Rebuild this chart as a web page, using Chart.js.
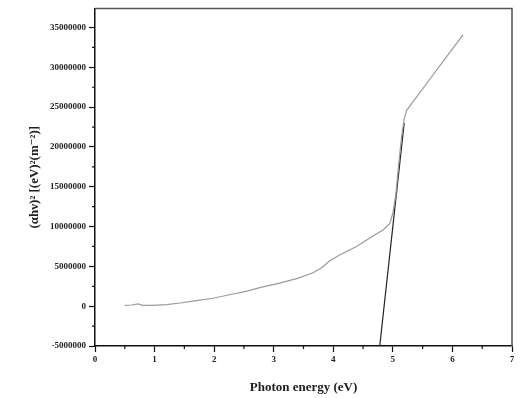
<!DOCTYPE html>
<html>
<head>
<meta charset="utf-8">
<script src="https://cdn.jsdelivr.net/npm/chart.js@4/dist/chart.umd.min.js"></script>
<style>
  html, body { margin: 0; padding: 0; background: #fff; }
  #wrap { width: 524px; height: 398px; }
</style>
</head>
<body>
<div id="wrap"><canvas id="tauc"></canvas></div>
<script>
// 측정 곡선 (Photon energy, (αhν)^2)
const energyEv = [0.50, 0.62, 0.72, 0.80, 0.97, 1.20, 1.43, 1.70, 1.98, 2.30, 2.55, 2.80, 3.10, 3.40, 3.66, 3.80, 3.94, 4.10, 4.39, 4.60, 4.84, 4.95, 5.00, 5.05, 5.10, 5.15, 5.19, 5.23, 5.29, 5.50, 5.62, 5.90, 6.18];
const alphaHv2 = [1.0e5, 1.5e5, 2.8e5, 1.0e5, 1.0e5, 2.0e5, 4.0e5, 7.0e5, 1.0e6, 1.5e6, 1.9e6, 2.4e6, 2.9e6, 3.5e6, 4.2e6, 4.8e6, 5.7e6, 6.4e6, 7.5e6, 8.5e6, 9.6e6, 1.04e7, 1.17e7, 1.40e7, 1.80e7, 2.15e7, 2.35e7, 2.46e7, 2.52e7, 2.73e7, 2.85e7, 3.13e7, 3.41e7];

// 직선 피팅 (밴드갭 외삽)
const fitEnergy = [4.78, 5.19];
const fitValue = [-5.0e6, 2.30e7];

// 축 눈금
const xTicks = [0, 1, 2, 3, 4, 5, 6, 7];
const xMinorTicks = [0.5, 1.5, 2.5, 3.5, 4.5, 5.5, 6.5];
const yTicks = [-5e6, 0, 5e6, 1e7, 1.5e7, 2e7, 2.5e7, 3e7, 3.5e7];
const yMinorTicks = [-2.5e6, 2.5e6, 7.5e6, 1.25e7, 1.75e7, 2.25e7, 2.75e7, 3.25e7];

const serif = "'Liberation Serif', 'DejaVu Serif', serif";

// 보조 눈금 + 위/오른쪽 테두리
const framePlugin = {
  id: 'frame',
  beforeDatasetsDraw(chart) {
    const {ctx, chartArea: a} = chart;
    ctx.save();
    ctx.strokeStyle = '#555';
    ctx.lineWidth = 1.5;
    ctx.beginPath();
    ctx.moveTo(a.left, a.top);
    ctx.lineTo(a.right, a.top);
    ctx.lineTo(a.right, a.bottom);
    ctx.stroke();
    ctx.restore();
  },
  afterDraw(chart) {
    const {ctx, chartArea: a, scales} = chart;
    ctx.save();
    ctx.strokeStyle = '#111';
    ctx.lineWidth = 1.2;
    ctx.beginPath();
    xMinorTicks.forEach(v => {
      const px = scales.x.getPixelForValue(v);
      ctx.moveTo(px, a.bottom);
      ctx.lineTo(px, a.bottom + 3);
    });
    yMinorTicks.forEach(v => {
      const py = scales.y.getPixelForValue(v);
      ctx.moveTo(a.left, py);
      ctx.lineTo(a.left - 3, py);
    });
    ctx.stroke();
    ctx.restore();
  }
};

const curvePoints = energyEv.map((e, i) => ({x: e, y: alphaHv2[i]}));
const fitPoints = fitEnergy.map((e, i) => ({x: e, y: fitValue[i]}));

new Chart(document.getElementById('tauc'), {
  type: 'line',
  data: {
    datasets: [
      {
        data: curvePoints,
        borderColor: '#9a9a9a',
        borderWidth: 1.2,
        pointRadius: 0,
        tension: 0
      },
      {
        data: fitPoints,
        borderColor: '#222',
        borderWidth: 1.2,
        pointRadius: 0
      }
    ]
  },
  options: {
    responsive: true,
    maintainAspectRatio: false,
    animation: false,
    layout: { padding: { top: 7, right: 12, bottom: 0, left: 0 } },
    plugins: { legend: { display: false }, tooltip: { enabled: false } },
    scales: {
      x: {
        type: 'linear',
        min: 0,
        max: 7,
        afterBuildTicks: s => { s.ticks = xTicks.map(v => ({value: v})); },
        afterFit: s => { s.height = 52; },
        grid: { drawOnChartArea: false, tickLength: 6, tickColor: '#111', tickWidth: 1.2 },
        border: { color: '#111', width: 1.5 },
        ticks: { color: '#222', font: { family: serif, size: 9, weight: 'bold' }, padding: 2, maxRotation: 0 },
        title: { display: true, text: 'Photon energy (eV)', color: '#222', font: { family: serif, size: 13, weight: 'bold' }, padding: { top: 0, bottom: 3 } }
      },
      y: {
        type: 'linear',
        min: -5e6,
        max: 3.74e7,
        afterBuildTicks: s => { s.ticks = yTicks.map(v => ({value: v})); },
        afterFit: s => { s.width = 95; },
        grid: { drawOnChartArea: false, tickLength: 6, tickColor: '#111', tickWidth: 1.2 },
        border: { color: '#111', width: 1.5 },
        ticks: { color: '#222', font: { family: serif, size: 9, weight: 'bold' }, padding: 3, callback: v => String(v) },
        title: { display: true, text: '(αhν)² [(eV)²(m⁻²)]', color: '#222', font: { family: serif, size: 13, weight: 'bold' }, padding: { top: 27, bottom: 0 } }
      }
    }
  },
  plugins: [framePlugin]
});
</script>
</body>
</html>
